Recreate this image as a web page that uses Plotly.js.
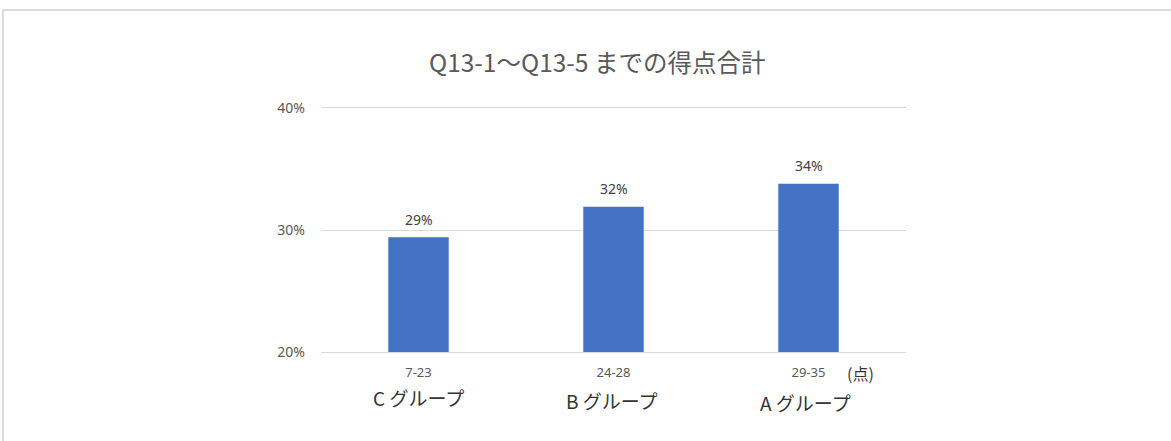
<!DOCTYPE html>
<html>
<head>
<meta charset="utf-8">
<script src="https://cdn.plot.ly/plotly-3.0.1.min.js"></script>
<style>
html,body{margin:0;padding:0;background:#fff;}
#chart{width:1171px;height:441px;}
</style>
</head>
<body>
<div id="chart"></div>
<script>
// ---- data ----
const categories = ["7-23", "24-28", "29-35"];
const groupLabels = ["C グループ", "B グループ", "A グループ"];
const values = [0.294, 0.319, 0.338];
const valueLabels = ["29%", "32%", "34%"];
const unitLabel = "(点)";
const chartTitle = "Q13-1～Q13-5 までの得点合計";
const yTicks = [0.2, 0.3, 0.4];

const FONT = "'Noto Sans', 'Noto Sans CJK JP', sans-serif";
const JFONT = "'Noto Sans CJK JP', sans-serif";
const GRAY = "#595959";

const trace = {
  type: "bar",
  x: categories,
  y: values,
  marker: {color: "#4472C4"},
  width: 0.31,
  hoverinfo: "skip"
};

const annotations = [];
// value labels above bars
valueLabels.forEach((t, i) => annotations.push({
  x: categories[i], xref: "x", y: values[i], yref: "y",
  text: t, showarrow: false, xanchor: "center", yanchor: "middle",
  yshift: 18,
  font: {family: FONT, size: 14, color: "#404040"}
}));
// group labels under tick labels
const groupOffsets = [-0.1885, -0.197, -0.209];
const groupDx = [0, -2, -3];
groupLabels.forEach((g, i) => annotations.push({
  x: categories[i], xref: "x", y: groupOffsets[i], yref: "paper",
  text: g, showarrow: false, xanchor: "center", yanchor: "middle",
  xshift: groupDx[i],
  font: {family: JFONT, size: 19, color: "#333333"}
}));
annotations.push({
  x: categories[2], xref: "x", y: -0.086, yref: "paper",
  text: unitLabel, showarrow: false, xanchor: "center", yanchor: "middle",
  xshift: 52,
  font: {family: JFONT, size: 16, color: "#333333"}
});

const layout = {
  width: 1171, height: 441,
  margin: {l: 321, r: 265, t: 108, b: 89},
  paper_bgcolor: "#fff", plot_bgcolor: "#fff",
  showlegend: false,
  title: {
    text: chartTitle,
    x: 0.51, xref: "container", xanchor: "center",
    y: 0.856, yref: "container", yanchor: "middle",
    font: {family: JFONT, size: 24.5, color: GRAY}
  },
  xaxis: {
    type: "category",
    showgrid: false, zeroline: false,
    showline: true, mirror: true, linecolor: "#D9D9D9", linewidth: 1,
    ticks: "",
    tickfont: {family: FONT, size: 13, color: GRAY},
    ticklabelstandoff: 8,
    fixedrange: true
  },
  yaxis: {
    range: [0.2, 0.4],
    tickvals: yTicks,
    tickformat: ".0%",
    showgrid: true, gridcolor: "#D9D9D9", gridwidth: 1,
    zeroline: false, showline: false, ticks: "",
    tickfont: {family: FONT, size: 14, color: GRAY},
    ticklabelstandoff: 15,
    fixedrange: true
  },
  annotations: annotations,
  shapes: [
    {type: "line", xref: "paper", yref: "paper", x0: -0.5436, x1: 1.5, y0: 1.4016, y1: 1.4016,
     line: {color: "#D0D0D0", width: 1.5}},
    {type: "line", xref: "paper", yref: "paper", x0: -0.5436, x1: -0.5436, y0: 1.4016, y1: -0.4,
     line: {color: "#D0D0D0", width: 1.5}}
  ]
};

Plotly.newPlot("chart", [trace], layout, {displayModeBar: false, staticPlot: true});
</script>
</body>
</html>
